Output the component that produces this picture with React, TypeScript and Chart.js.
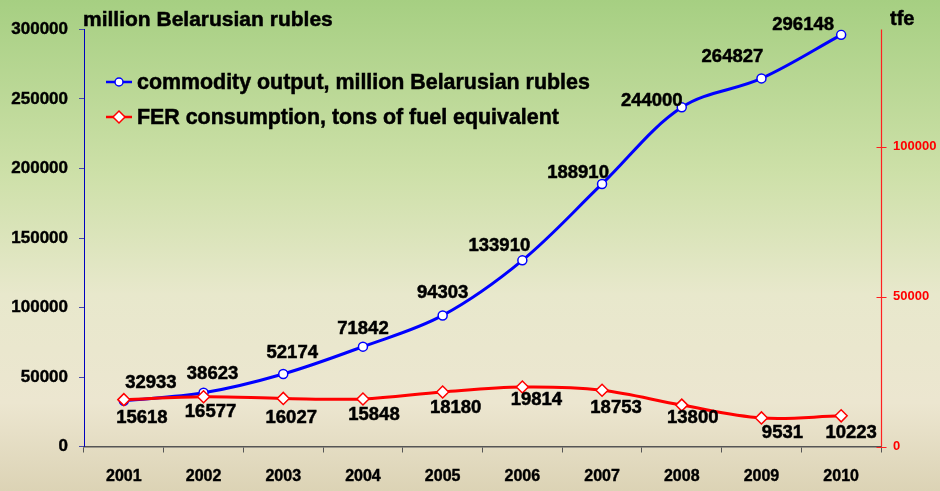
import React, { useEffect, useRef } from "react";
import { Chart, registerables } from "chart.js";

Chart.register(...registerables);

const years = ["2001", "2002", "2003", "2004", "2005", "2006", "2007", "2008", "2009", "2010"];
const commodityOutput = [32933, 38623, 52174, 71842, 94303, 133910, 188910, 244000, 264827, 296148];
const ferConsumption = [15618, 16577, 16027, 15848, 18180, 19814, 18753, 13800, 9531, 10223];
const leftTicks = [0, 50000, 100000, 150000, 200000, 250000, 300000];
const rightTicks = [0, 50000, 100000];
const leftMax = 300000;
const rightMax = 139000;

const leftTitle = "million Belarusian rubles";
const rightTitle = "tfe";
const seriesNames = ["commodity output, million Belarusian rubles", "FER consumption, tons of fuel equivalent"];

// label placement offsets (style only)
const blueLabelOffsets: [number, number][] = [
  [27, -18], [9, -19], [9, -21], [0, -18], [0, -23], [-23, -14], [-24, -11], [-30, -6], [-29, -21], [-38, -10],
];
const redLabelOffsets: [number, number][] = [
  [18, 18], [7, 15], [8, 19], [11, 16], [13, 16], [14, 13], [14, 18], [11, 13], [21, 15], [10, 17],
];

const FONT = "'Liberation Sans', Arial, sans-serif";

const bgPlugin = {
  id: "bg",
  beforeDraw(chart: any) {
    const { ctx, width, height } = chart;
    const g = ctx.createLinearGradient(0, 0, 0, height);
    g.addColorStop(0, "#a6cf82");
    g.addColorStop(0.35, "#cde0a8");
    g.addColorStop(0.6, "#e8e8cc");
    g.addColorStop(0.82, "#ece6d0");
    g.addColorStop(1, "#dcd3b5");
    ctx.save();
    ctx.fillStyle = g;
    ctx.fillRect(0, 0, width, height);
    ctx.restore();
  },
};

function boldText(ctx: CanvasRenderingContext2D, text: string, x: number, y: number) {
  ctx.fillText(text, x, y);
  ctx.strokeText(text, x, y);
}

const decorPlugin = {
  id: "decor",
  afterDraw(chart: any) {
    const { ctx } = chart;
    ctx.save();
    // titles
    ctx.fillStyle = "#000";
    ctx.strokeStyle = "#000";
    ctx.lineWidth = 0.5;
    ctx.textBaseline = "alphabetic";
    ctx.textAlign = "left";
    ctx.font = `bold 21px ${FONT}`;
    boldText(ctx, leftTitle, 83, 26);
    ctx.font = `bold 20px ${FONT}`;
    boldText(ctx, rightTitle, 890, 25);

    // right axis line and inner half of its ticks
    const y1 = chart.scales.y1;
    const ax = Math.round(y1.left) + 0.5;
    ctx.strokeStyle = "#ff2020";
    ctx.lineWidth = 1.2;
    ctx.beginPath();
    ctx.moveTo(ax, y1.top);
    ctx.lineTo(ax, y1.bottom);
    ctx.stroke();
    ctx.lineWidth = 1;
    rightTicks.forEach((v) => {
      const py = Math.round(y1.getPixelForValue(v)) + 0.5;
      ctx.beginPath();
      ctx.moveTo(ax - 5, py);
      ctx.lineTo(ax + 5, py);
      ctx.stroke();
    });

    // data labels
    ctx.font = `bold 18.5px ${FONT}`;
    ctx.textAlign = "center";
    ctx.textBaseline = "middle";
    ctx.fillStyle = "#000";
    ctx.strokeStyle = "#000";
    ctx.lineWidth = 0.5;
    chart.data.datasets.forEach((ds: any, di: number) => {
      const meta = chart.getDatasetMeta(di);
      const offs = ds.label === seriesNames[0] ? blueLabelOffsets : redLabelOffsets;
      meta.data.forEach((pt: any, i: number) => {
        const [dx, dy] = offs[i];
        boldText(ctx, String(ds.data[i]), pt.x + dx, pt.y + dy);
      });
    });

    // legend
    const items = [
      { name: seriesNames[0], color: "#0000ff", shape: "circle", y: 82 },
      { name: seriesNames[1], color: "#ff0000", shape: "diamond", y: 117 },
    ];
    items.forEach((it) => {
      ctx.strokeStyle = it.color;
      ctx.lineWidth = 2.5;
      ctx.beginPath();
      ctx.moveTo(106, it.y);
      ctx.lineTo(132, it.y);
      ctx.stroke();
      ctx.fillStyle = "#fff";
      ctx.lineWidth = 1.5;
      ctx.beginPath();
      if (it.shape === "circle") {
        ctx.arc(119, it.y, 4, 0, Math.PI * 2);
      } else {
        ctx.moveTo(119 - 6, it.y);
        ctx.lineTo(119, it.y - 6);
        ctx.lineTo(119 + 6, it.y);
        ctx.lineTo(119, it.y + 6);
        ctx.closePath();
      }
      ctx.fill();
      ctx.stroke();
      ctx.fillStyle = "#000";
      ctx.strokeStyle = "#000";
      ctx.lineWidth = 0.5;
      ctx.font = `bold 21.4px ${FONT}`;
      ctx.textAlign = "left";
      ctx.textBaseline = "middle";
      boldText(ctx, it.name, 137, it.y + 1);
    });
    ctx.restore();
  },
};

export default function App() {
  const ref = useRef<HTMLCanvasElement | null>(null);

  useEffect(() => {
    document.body.style.margin = "0";
    const canvas = ref.current;
    if (!canvas) return;
    const chart = new Chart(canvas, {
      type: "line",
      data: {
        labels: years,
        datasets: [
          {
            label: seriesNames[1],
            data: ferConsumption,
            yAxisID: "y1",
            borderColor: "#ff0000",
            borderWidth: 3,
            tension: 0.35,
            pointStyle: "rectRot",
            pointRadius: 6,
            pointBorderWidth: 1.5,
            pointBackgroundColor: "#ffffff",
            pointBorderColor: "#ff0000",
            order: 0,
          },
          {
            label: seriesNames[0],
            data: commodityOutput,
            yAxisID: "y",
            borderColor: "#0000ff",
            borderWidth: 3,
            tension: 0.35,
            pointStyle: "circle",
            pointRadius: 4.5,
            pointBorderWidth: 1.5,
            pointBackgroundColor: "#ffffff",
            pointBorderColor: "#0000ff",
            order: 1,
          },
        ],
      },
      options: {
        responsive: false,
        animation: false,
        devicePixelRatio: 1,
        layout: { padding: { top: 29.5, left: 0, right: 0, bottom: 0 } },
        plugins: { legend: { display: false }, tooltip: { enabled: false }, title: { display: false } },
        scales: {
          x: {
            type: "category",
            offset: true,
            grid: { display: true, offset: true, drawOnChartArea: false, drawTicks: true, tickLength: 6, color: "#555555", lineWidth: 1 },
            border: { display: true, color: "#555555", width: 1.5 },
            ticks: { color: "#000", font: { family: FONT, size: 16, weight: "bold" }, padding: 14, maxRotation: 0, textStrokeColor: "#000", textStrokeWidth: 0.4 },
            afterFit: (s: any) => { s.height = 44.5; },
          },
          y: {
            type: "linear",
            position: "left",
            min: 0,
            max: leftMax,
            afterBuildTicks: (s: any) => { s.ticks = leftTicks.map((v) => ({ value: v })); },
            grid: { drawOnChartArea: false, drawTicks: true, tickLength: 5, color: "#4848a8", lineWidth: 1 },
            border: { display: true, color: "#0000c0", width: 1 },
            ticks: { color: "#000", font: { family: FONT, size: 17, weight: "bold" }, padding: 11, callback: (v: any) => String(v), textStrokeColor: "#000", textStrokeWidth: 0.4 },
            afterFit: (s: any) => { s.width = 84; },
          },
          y1: {
            type: "linear",
            position: "right",
            min: 0,
            max: rightMax,
            afterBuildTicks: (s: any) => { s.ticks = rightTicks.map((v) => ({ value: v })); },
            grid: { drawOnChartArea: false, drawTicks: false, color: "#ff3030", lineWidth: 1 },
            border: { display: false },
            ticks: { color: "#ff0000", font: { family: FONT, size: 13, weight: "bold" }, padding: 12, callback: (v: any) => String(v) },
            afterFit: (s: any) => { s.width = 59; },
          },
        },
      },
      plugins: [bgPlugin, decorPlugin],
    } as any);
    return () => chart.destroy();
  }, []);

  return (
    <div style={{ width: 940, height: 491 }}>
      <canvas ref={ref} width={940} height={491} style={{ display: "block", width: 940, height: 491 }} />
    </div>
  );
}
